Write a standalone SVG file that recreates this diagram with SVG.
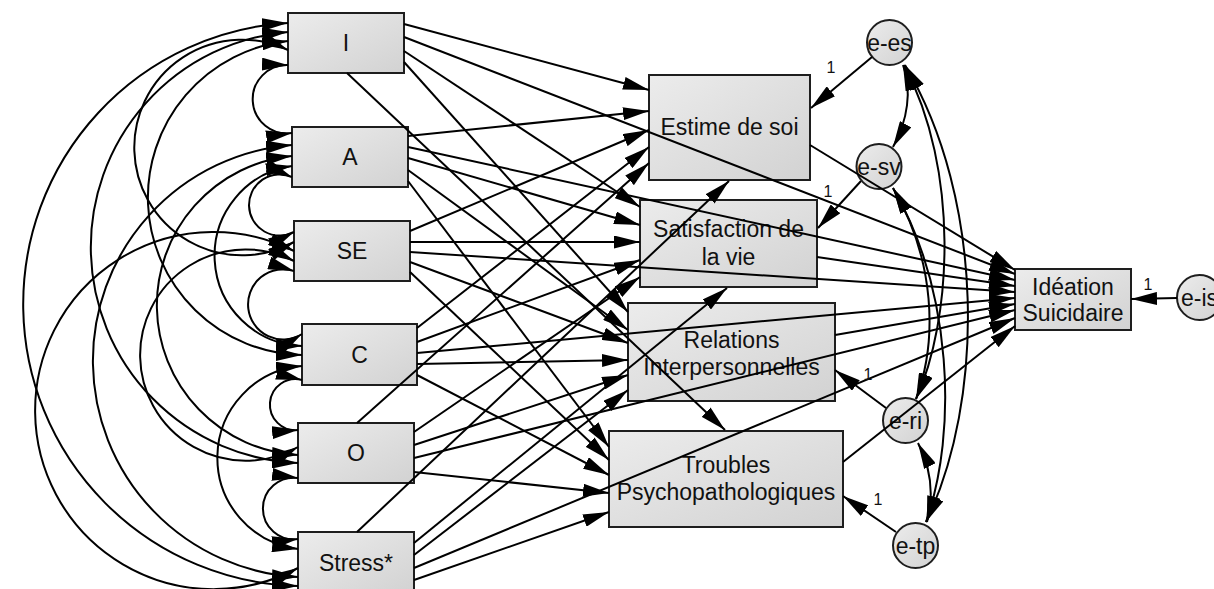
<svg xmlns="http://www.w3.org/2000/svg" width="1214" height="589" viewBox="0 0 1214 589">
  <defs>
    <linearGradient id="fillGrad" x1="0" y1="0" x2="1" y2="1">
      <stop offset="0" stop-color="#ececec"/>
      <stop offset="1" stop-color="#d2d2d2"/>
    </linearGradient>
    <marker id="ah" markerUnits="userSpaceOnUse" markerWidth="26" markerHeight="13" viewBox="0 0 26 13" refX="26" refY="6.5" orient="auto-start-reverse">
      <path d="M0,0 L26,6.5 L0,13 Z" fill="#000"/>
    </marker>
    <style>
      .box { fill: url(#fillGrad); stroke: #1e1e1e; stroke-width: 2; }
      .lbl { font-family: "Liberation Sans", Arial, sans-serif; font-size: 23px; text-anchor: middle; fill: #111; }
      .w { font-family: "Liberation Sans", Arial, sans-serif; font-size: 16px; text-anchor: middle; fill: #111; }
      .ln { fill: none; stroke: #000; stroke-width: 2; marker-end: url(#ah); }
      .cv { fill: none; stroke: #000; stroke-width: 2; marker-start: url(#ah); marker-end: url(#ah); }
    </style>
  </defs>
  <rect width="1214" height="589" fill="#fff"/>

  <!-- exogenous variables -->
  <g id="n-I"><rect class="box" x="288" y="13" width="116" height="60"/><text class="lbl" x="346" y="51">I</text></g>
  <g id="n-A"><rect class="box" x="292" y="127" width="116" height="60"/><text class="lbl" x="350" y="165">A</text></g>
  <g id="n-SE"><rect class="box" x="294" y="221" width="116" height="60"/><text class="lbl" x="352" y="259">SE</text></g>
  <g id="n-C"><rect class="box" x="302" y="324" width="115" height="61"/><text class="lbl" x="359.5" y="363">C</text></g>
  <g id="n-O"><rect class="box" x="298" y="423" width="116" height="60"/><text class="lbl" x="356" y="461">O</text></g>
  <g id="n-Stress"><rect class="box" x="298" y="532" width="116" height="61"/><text class="lbl" x="356" y="571">Stress*</text></g>

  <!-- mediators -->
  <g id="n-ES"><rect class="box" x="649" y="75" width="161" height="105"/><text class="lbl" x="729.5" y="135">Estime de soi</text></g>
  <g id="n-SV"><rect class="box" x="640" y="200" width="177" height="87"/><text class="lbl" x="728.5" y="237">Satisfaction de</text><text class="lbl" x="728.5" y="265">la vie</text></g>
  <g id="n-RI"><rect class="box" x="628" y="303" width="207" height="98"/><text class="lbl" x="731.5" y="348">Relations</text><text class="lbl" x="731.5" y="375">Interpersonnelles</text></g>
  <g id="n-TP"><rect class="box" x="609" y="431" width="234" height="96"/><text class="lbl" x="726" y="473">Troubles</text><text class="lbl" x="726" y="500">Psychopathologiques</text></g>

  <!-- outcome -->
  <g id="n-IS"><rect class="box" x="1015" y="269" width="116" height="61"/><text class="lbl" x="1073" y="295">Idéation</text><text class="lbl" x="1073" y="321">Suicidaire</text></g>

  <!-- error terms -->
  <g id="e-es"><circle class="box" cx="889.5" cy="42.5" r="22.5"/><text class="lbl" x="889.5" y="51">e-es</text></g>
  <g id="e-sv"><circle class="box" cx="879" cy="166.5" r="22.5"/><text class="lbl" x="879" y="175">e-sv</text></g>
  <g id="e-ri"><circle class="box" cx="905.5" cy="420.5" r="22.5"/><text class="lbl" x="905.5" y="429">e-ri</text></g>
  <g id="e-tp"><circle class="box" cx="915.5" cy="545.5" r="22.5"/><text class="lbl" x="915.5" y="554">e-tp</text></g>
  <g id="e-is"><circle class="box" cx="1199.5" cy="297.5" r="22.5"/><text class="lbl" x="1199.5" y="306">e-is</text></g>

  <g id="connectors">
    <!-- covariances among exogenous variables -->
    <path class="cv" d="M288,65 A34.2,34.2 0 1 0 292,133"/>
    <path class="cv" d="M292,177 A30.6,30.6 0 1 0 294,232"/>
    <path class="cv" d="M294,271 A35.1,35.1 0 1 0 302,334"/>
    <path class="cv" d="M302,380 A25.5,25.5 0 1 0 298,430"/>
    <path class="cv" d="M298,478 A30.8,30.8 0 1 0 298,539"/>
    <path class="cv" d="M288,50 A107.8,107.8 0 1 0 294,242"/>
    <path class="cv" d="M288,41 A157.5,157.5 0 0 0 302,355"/>
    <path class="cv" d="M288,32 A216,216 0 0 0 298,463"/>
    <path class="cv" d="M288,23 A281.8,281.8 0 0 0 298,586"/>
    <path class="cv" d="M292,166 A90.5,90.5 0 0 0 302,346"/>
    <path class="cv" d="M292,156 A150,150 0 0 0 298,455"/>
    <path class="cv" d="M292,145 A216.5,216.5 0 0 0 298,577"/>
    <path class="cv" d="M294,261 A105.7,105.7 0 1 0 298,447"/>
    <path class="cv" d="M294,251 A178.6,178.6 0 1 0 298,568"/>
    <path class="cv" d="M302,366 A92,92 0 0 0 298,549"/>

    <!-- I -->
    <path class="ln" d="M404,24 L649,90"/>
    <path class="ln" d="M404,37 L1015,274"/>
    <path class="ln" d="M404,51 L640,207"/>
    <path class="ln" d="M404,62 L628,312"/>
    <path class="ln" d="M347,73 L725,430"/>
    <!-- A -->
    <path class="ln" d="M408,136 L649,111"/>
    <path class="ln" d="M408,147 L1015,280"/>
    <path class="ln" d="M408,158 L640,225"/>
    <path class="ln" d="M408,170 L628,330"/>
    <path class="ln" d="M408,181 L609,447"/>
    <!-- SE -->
    <path class="ln" d="M410,231 L649,130"/>
    <path class="ln" d="M410,242 L640,242"/>
    <path class="ln" d="M410,252 L1015,292"/>
    <path class="ln" d="M410,262 L628,343"/>
    <path class="ln" d="M410,272 L609,460"/>
    <!-- C -->
    <path class="ln" d="M417,328 L649,147"/>
    <path class="ln" d="M417,342 L640,260"/>
    <path class="ln" d="M417,353 L1015,298"/>
    <path class="ln" d="M417,364 L628,360"/>
    <path class="ln" d="M417,375 L609,475"/>
    <!-- O -->
    <path class="ln" d="M357,423 L649,163"/>
    <path class="ln" d="M414,432 L640,277"/>
    <path class="ln" d="M414,445 L628,375"/>
    <path class="ln" d="M414,458 L1015,310"/>
    <path class="ln" d="M414,472 L609,493"/>
    <!-- Stress* -->
    <path class="ln" d="M357,532 L729,181"/>
    <path class="ln" d="M414,543 L727,288"/>
    <path class="ln" d="M414,555 L628,390"/>
    <path class="ln" d="M414,568 L1015,318"/>
    <path class="ln" d="M414,580 L609,512"/>

    <!-- mediators to outcome -->
    <path class="ln" d="M810,145 L1015,270"/>
    <path class="ln" d="M817,257 L1015,286"/>
    <path class="ln" d="M835,335 L1015,304"/>
    <path class="ln" d="M843,462 L1015,326"/>

    <!-- error paths -->
    <path class="ln" d="M872,57 L811,108"/>
    <path class="ln" d="M861,181 L818,228"/>
    <path class="ln" d="M886,408 L835,370"/>
    <path class="ln" d="M896,532 L843,496"/>
    <path class="ln" d="M1177,298 L1131,299"/>

    <!-- error covariances -->
    <path class="cv" d="M903,65 C912,90 908,120 893,147"/>
    <path class="cv" d="M904,65 C960,170 952,320 916,399"/>
    <path class="cv" d="M905,65 C985,200 985,400 926,522"/>
    <path class="cv" d="M893,188 C935,260 938,340 916,399"/>
    <path class="cv" d="M893,188 C952,290 958,430 926,522"/>
    <path class="cv" d="M918,443 C932,470 934,495 927,522"/>

    <!-- path weights -->
    <text class="w" x="831" y="73">1</text>
    <text class="w" x="828" y="197">1</text>
    <text class="w" x="868" y="380">1</text>
    <text class="w" x="878" y="505">1</text>
    <text class="w" x="1148" y="290">1</text>
  </g>
</svg>
